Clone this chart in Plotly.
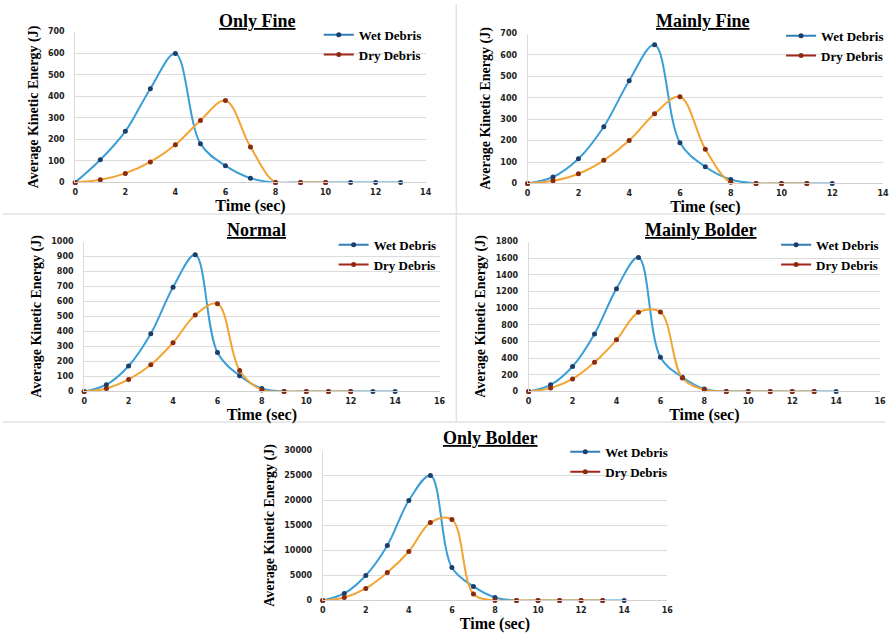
import plotly.graph_objects as go

# ---------------- data ----------------
panel_titles = ["Only Fine", "Mainly Fine", "Normal", "Mainly Bolder", "Only Bolder"]

only_fine_wet_t = [0, 1, 2, 3, 4, 5, 6, 7, 8, 9, 10, 11, 12, 13]
only_fine_wet = [0, 105, 237, 435, 598, 180, 78, 20, 0, 0, 0, 0, 0, 0]
only_fine_dry_t = [0, 1, 2, 3, 4, 5, 6, 7, 8, 9, 10]
only_fine_dry = [0, 12, 42, 95, 175, 288, 380, 165, 0, 0, 0]

mainly_fine_wet_t = [0, 1, 2, 3, 4, 5, 6, 7, 8, 9, 10, 11, 12]
mainly_fine_wet = [0, 30, 115, 265, 480, 648, 190, 78, 18, 0, 0, 0, 0]
mainly_fine_dry_t = [0, 1, 2, 3, 4, 5, 6, 7, 8, 9, 10, 11]
mainly_fine_dry = [0, 12, 45, 108, 200, 325, 405, 160, 5, 0, 0, 0]

normal_wet_t = [0, 1, 2, 3, 4, 5, 6, 7, 8, 9, 10, 11, 12, 13, 14]
normal_wet = [0, 45, 170, 385, 695, 912, 260, 105, 20, 0, 0, 0, 0, 0, 0]
normal_dry_t = [0, 1, 2, 3, 4, 5, 6, 7, 8, 9, 10, 11, 12]
normal_dry = [0, 20, 80, 178, 325, 510, 585, 140, 10, 0, 0, 0, 0]

mainly_bolder_wet_t = [0, 1, 2, 3, 4, 5, 6, 7, 8, 9, 10, 11, 12, 13, 14]
mainly_bolder_wet = [0, 80, 300, 690, 1235, 1610, 410, 170, 30, 0, 0, 0, 0, 0, 0]
mainly_bolder_dry_t = [0, 1, 2, 3, 4, 5, 6, 7, 8, 9, 10, 11, 12, 13]
mainly_bolder_dry = [0, 40, 150, 350, 620, 950, 955, 160, 20, 0, 0, 0, 0, 0]

only_bolder_wet_t = [0, 1, 2, 3, 4, 5, 6, 7, 8, 9, 10, 11, 12, 13, 14]
only_bolder_wet = [0, 1400, 5000, 11000, 20000, 25000, 6600, 2800, 600, 0, 0, 0, 0, 0, 0]
only_bolder_dry_t = [0, 1, 2, 3, 4, 5, 6, 7, 8, 9, 10, 11, 12, 13]
only_bolder_dry = [0, 600, 2400, 5600, 9800, 15600, 16200, 1300, 0, 0, 0, 0, 0, 0]

x_max = [14, 14, 16, 16, 16]
y_max = [700, 700, 1000, 1800, 30000]
y_step = [100, 100, 100, 200, 5000]

series = [
    (only_fine_wet_t, only_fine_wet, only_fine_dry_t, only_fine_dry),
    (mainly_fine_wet_t, mainly_fine_wet, mainly_fine_dry_t, mainly_fine_dry),
    (normal_wet_t, normal_wet, normal_dry_t, normal_dry),
    (mainly_bolder_wet_t, mainly_bolder_wet, mainly_bolder_dry_t, mainly_bolder_dry),
    (only_bolder_wet_t, only_bolder_wet, only_bolder_dry_t, only_bolder_dry),
]

# ---------------- layout geometry (pixels) ----------------
W, H = 891, 636
def px(x):
    return x / W
def py(y):
    return 1 - y / H

# (left, right, top, bottom) of plot areas
areas = [
    (73, 427, 28, 181),
    (530, 889, 30, 182),
    (82, 441, 241, 393),
    (531, 886, 241, 393),
    (323, 671, 453, 605),
]
title_pos = [(257, 17), (707, 17), (256, 229), (705, 229), (492, 440)]
legend_pos = [(358, 35), (825, 36), (373, 248), (820, 248), (607, 458)]

WET_LINE = "#3a9fd6"
WET_MARK = "#1f3d6b"
DRY_LINE = "#f2a534"
DRY_MARK = "#8a2a10"
LEG_WET = "#2f7fb8"
LEG_DRY = "#a3261b"

SERIF = "Times New Roman, Liberation Serif, DejaVu Serif, serif"
SANS = "Verdana, DejaVu Sans, sans-serif"

fig = go.Figure()
layout = dict(
    width=W, height=H, margin=dict(l=0, r=0, t=0, b=0),
    paper_bgcolor="white", plot_bgcolor="white", showlegend=True,
)
annotations = []
shapes = []

for i in range(5):
    n = "" if i == 0 else str(i + 1)
    xa, ya = "x" + n, "y" + n
    lg = "legend" if i == 0 else "legend" + str(i + 1)
    wt, wv, dt, dv = series[i]
    fig.add_trace(go.Scatter(
        x=wt, y=wv, xaxis=xa, yaxis=ya, mode="lines+markers",
        line=dict(color=WET_LINE, width=2, shape="spline", smoothing=1),
        marker=dict(color=WET_MARK, size=5), showlegend=False, cliponaxis=False))
    fig.add_trace(go.Scatter(
        x=dt, y=dv, xaxis=xa, yaxis=ya, mode="lines+markers",
        line=dict(color=DRY_LINE, width=2, shape="spline", smoothing=1),
        marker=dict(color=DRY_MARK, size=5), showlegend=False, cliponaxis=False))
    # legend entries
    fig.add_trace(go.Scatter(
        x=[None], y=[None], xaxis=xa, yaxis=ya, mode="lines+markers", name="Wet Debris",
        line=dict(color=LEG_WET, width=2), marker=dict(color=WET_MARK, size=5), legend=lg))
    fig.add_trace(go.Scatter(
        x=[None], y=[None], xaxis=xa, yaxis=ya, mode="lines+markers", name="Dry Debris",
        line=dict(color=LEG_DRY, width=2), marker=dict(color=DRY_MARK, size=5), legend=lg))

    l, r, t, b = areas[i]
    layout["xaxis" + n] = dict(
        domain=[px(l), px(r)], range=[0, x_max[i]], anchor=ya, dtick=2, tick0=0,
        showgrid=False, zeroline=False, showline=True, linecolor="#d0d0d0", linewidth=1,
        ticks="", tickfont=dict(family=SANS, size=8, color="#222", weight="bold"),
        ticklabelstandoff=2,
        title=dict(text="Time (sec)", font=dict(family=SERIF, size=16, color="black", weight="bold"), standoff=1),
        fixedrange=True,
    )
    layout["yaxis" + n] = dict(
        domain=[py(b), py(t)], range=[0, y_max[i]], anchor=xa, dtick=y_step[i], tick0=0,
        tickformat="d",
        showgrid=True, gridcolor="#dcdcdc", gridwidth=1, zeroline=False,
        showline=True, linecolor="#dcdcdc", ticks="",
        tickfont=dict(family=SANS, size=8, color="#222", weight="bold"),
        ticklabelstandoff=8,
        title=dict(text="Average Kinetic Energy (J)", font=dict(family=SERIF, size=14, color="black", weight="bold"), standoff=6),
        fixedrange=True,
    )
    tx, ty = title_pos[i]
    annotations.append(dict(
        text="<u><b>" + panel_titles[i] + "</b></u>", x=px(tx), y=py(ty), xref="paper", yref="paper",
        xanchor="center", yanchor="middle", showarrow=False,
        font=dict(family=SERIF, size=18, color="black")))
    lx, ly = legend_pos[i]
    layout[lg] = dict(
        x=px(lx - 39), y=py(ly - 19), xanchor="left", yanchor="top", bgcolor="rgba(0,0,0,0)",
        font=dict(family=SERIF, size=13, color="black", weight="bold"), itemwidth=30,
        tracegroupgap=0, borderwidth=0,
    )

# panel separators
SEP = "#e2e2e2"
shapes.append(dict(type="line", xref="paper", yref="paper", x0=px(458), x1=px(458), y0=py(0), y1=py(424), line=dict(color=SEP, width=1.5)))
shapes.append(dict(type="line", xref="paper", yref="paper", x0=0, x1=1, y0=py(213), y1=py(213), line=dict(color=SEP, width=1.5)))
shapes.append(dict(type="line", xref="paper", yref="paper", x0=0, x1=1, y0=py(424), y1=py(424), line=dict(color=SEP, width=1.5)))

layout["annotations"] = annotations
layout["shapes"] = shapes
fig.update_layout(**layout)
fig.write_html("out.html")
